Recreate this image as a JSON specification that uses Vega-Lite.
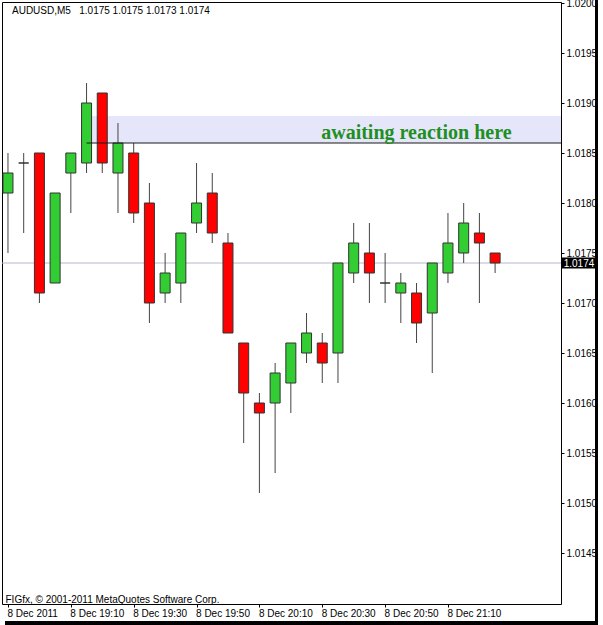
{
  "$schema": "https://vega.github.io/schema/vega-lite/v6.json",
  "width": 559,
  "height": 602,
  "autosize": {"type": "none"},
  "padding": {"left": 2, "top": 2, "right": 42, "bottom": 21},
  "background": "white",
  "datasets": {
    "candles": [
      {"t": "2011-12-08T18:50:00Z", "open": 1.0181, "high": 1.0185, "low": 1.0175, "close": 1.0183},
      {"t": "2011-12-08T18:55:00Z", "open": 1.0184, "high": 1.0185, "low": 1.0177, "close": 1.0184},
      {"t": "2011-12-08T19:00:00Z", "open": 1.0185, "high": 1.0185, "low": 1.0170, "close": 1.0171},
      {"t": "2011-12-08T19:05:00Z", "open": 1.0172, "high": 1.0181, "low": 1.0172, "close": 1.0181},
      {"t": "2011-12-08T19:10:00Z", "open": 1.0183, "high": 1.0185, "low": 1.0179, "close": 1.0185},
      {"t": "2011-12-08T19:15:00Z", "open": 1.0184, "high": 1.0192, "low": 1.0183, "close": 1.0190},
      {"t": "2011-12-08T19:20:00Z", "open": 1.0191, "high": 1.0191, "low": 1.0183, "close": 1.0184},
      {"t": "2011-12-08T19:25:00Z", "open": 1.0183, "high": 1.0188, "low": 1.0179, "close": 1.0186},
      {"t": "2011-12-08T19:30:00Z", "open": 1.0185, "high": 1.0186, "low": 1.0178, "close": 1.0179},
      {"t": "2011-12-08T19:35:00Z", "open": 1.0180, "high": 1.0182, "low": 1.0168, "close": 1.0170},
      {"t": "2011-12-08T19:40:00Z", "open": 1.0171, "high": 1.0175, "low": 1.0170, "close": 1.0173},
      {"t": "2011-12-08T19:45:00Z", "open": 1.0172, "high": 1.0177, "low": 1.0170, "close": 1.0177},
      {"t": "2011-12-08T19:50:00Z", "open": 1.0178, "high": 1.0184, "low": 1.0177, "close": 1.0180},
      {"t": "2011-12-08T19:55:00Z", "open": 1.0181, "high": 1.0183, "low": 1.0176, "close": 1.0177},
      {"t": "2011-12-08T20:00:00Z", "open": 1.0176, "high": 1.0177, "low": 1.0167, "close": 1.0167},
      {"t": "2011-12-08T20:05:00Z", "open": 1.0166, "high": 1.0166, "low": 1.0156, "close": 1.0161},
      {"t": "2011-12-08T20:10:00Z", "open": 1.0160, "high": 1.0161, "low": 1.0151, "close": 1.0159},
      {"t": "2011-12-08T20:15:00Z", "open": 1.0160, "high": 1.0164, "low": 1.0153, "close": 1.0163},
      {"t": "2011-12-08T20:20:00Z", "open": 1.0162, "high": 1.0166, "low": 1.0159, "close": 1.0166},
      {"t": "2011-12-08T20:25:00Z", "open": 1.0165, "high": 1.0169, "low": 1.0164, "close": 1.0167},
      {"t": "2011-12-08T20:30:00Z", "open": 1.0166, "high": 1.0167, "low": 1.0162, "close": 1.0164},
      {"t": "2011-12-08T20:35:00Z", "open": 1.0165, "high": 1.0174, "low": 1.0162, "close": 1.0174},
      {"t": "2011-12-08T20:40:00Z", "open": 1.0173, "high": 1.0178, "low": 1.0172, "close": 1.0176},
      {"t": "2011-12-08T20:45:00Z", "open": 1.0175, "high": 1.0178, "low": 1.0170, "close": 1.0173},
      {"t": "2011-12-08T20:50:00Z", "open": 1.0172, "high": 1.0175, "low": 1.0170, "close": 1.0172},
      {"t": "2011-12-08T20:55:00Z", "open": 1.0171, "high": 1.0173, "low": 1.0168, "close": 1.0172},
      {"t": "2011-12-08T21:00:00Z", "open": 1.0171, "high": 1.0172, "low": 1.0166, "close": 1.0168},
      {"t": "2011-12-08T21:05:00Z", "open": 1.0169, "high": 1.0174, "low": 1.0163, "close": 1.0174},
      {"t": "2011-12-08T21:10:00Z", "open": 1.0173, "high": 1.0179, "low": 1.0172, "close": 1.0176},
      {"t": "2011-12-08T21:15:00Z", "open": 1.0175, "high": 1.0180, "low": 1.0174, "close": 1.0178},
      {"t": "2011-12-08T21:20:00Z", "open": 1.0177, "high": 1.0179, "low": 1.0170, "close": 1.0176},
      {"t": "2011-12-08T21:25:00Z", "open": 1.0175, "high": 1.0175, "low": 1.0173, "close": 1.0174}
    ]
  },
  "layer": [
    {
      "data": {"values": [{}]},
      "mark": {"type": "rect", "color": "#e6e6fa", "clip": true},
      "encoding": {
        "x": {
          "datum": {"year": 2011, "month": 12, "date": 8, "hours": 19, "minutes": 15, "utc": true},
          "type": "temporal",
          "scale": {
            "type": "utc",
            "domain": [
              {"year": 2011, "month": 12, "date": 8, "hours": 18, "minutes": 49, "seconds": 41, "milliseconds": 250, "utc": true},
              {"year": 2011, "month": 12, "date": 8, "hours": 21, "minutes": 44, "seconds": 22, "milliseconds": 500, "utc": true}
            ]
          },
          "axis": {
            "orient": "bottom",
            "values": [
              {"year": 2011, "month": 12, "date": 8, "hours": 18, "minutes": 50, "utc": true},
              {"year": 2011, "month": 12, "date": 8, "hours": 19, "minutes": 10, "utc": true},
              {"year": 2011, "month": 12, "date": 8, "hours": 19, "minutes": 30, "utc": true},
              {"year": 2011, "month": 12, "date": 8, "hours": 19, "minutes": 50, "utc": true},
              {"year": 2011, "month": 12, "date": 8, "hours": 20, "minutes": 10, "utc": true},
              {"year": 2011, "month": 12, "date": 8, "hours": 20, "minutes": 30, "utc": true},
              {"year": 2011, "month": 12, "date": 8, "hours": 20, "minutes": 50, "utc": true},
              {"year": 2011, "month": 12, "date": 8, "hours": 21, "minutes": 10, "utc": true}
            ],
            "labelExpr": "utcFormat(datum.value, '%H:%M') === '18:50' ? '8 Dec 2011' : utcFormat(datum.value, '%-d %b %H:%M')",
            "labelAlign": "left",
            "labelBaseline": "top",
            "labelPadding": 1,
            "labelOffset": -1,
            "labelFlush": false,
            "labelOverlap": false,
            "labelFont": "Liberation Sans",
            "labelFontSize": 10,
            "labelColor": "black",
            "tickSize": 3,
            "tickColor": "black",
            "domain": false,
            "grid": false,
            "title": "FIGfx, © 2001-2011 MetaQuotes Software Corp.",
            "titleAnchor": "start",
            "titleAlign": "left",
            "titleX": 3,
            "titleY": -2,
            "titleBaseline": "alphabetic",
            "titleFont": "Liberation Sans",
            "titleFontSize": 10,
            "titleFontWeight": "normal",
            "titleColor": "black"
          }
        },
        "x2": {"datum": {"year": 2011, "month": 12, "date": 8, "hours": 22, "minutes": 0, "utc": true}},
        "y": {
          "datum": 1.0186,
          "type": "quantitative",
          "scale": {"domain": [1.01399, 1.02001], "nice": false, "zero": false},
          "axis": {
            "orient": "right",
            "values": [1.0145, 1.015, 1.0155, 1.016, 1.0165, 1.017, 1.0175, 1.018, 1.0185, 1.019, 1.0195, 1.02],
            "format": ".4f",
            "labelFont": "Liberation Sans",
            "labelFontSize": 10,
            "labelColor": "black",
            "labelPadding": 2,
            "labelFlush": false,
            "labelOverlap": false,
            "tickSize": 3,
            "tickColor": "black",
            "domain": false,
            "grid": false,
            "title": null
          }
        },
        "y2": {"datum": 1.01887}
      }
    },
    {
      "data": {"values": [{}]},
      "mark": {"type": "rule", "color": "#b4bacb", "strokeWidth": 1},
      "encoding": {"y": {"datum": 1.0174, "type": "quantitative"}}
    },
    {
      "data": {"name": "candles"},
      "mark": {"type": "rule", "color": "#444444", "strokeWidth": 1, "clip": true},
      "encoding": {
        "x": {"field": "t", "type": "temporal"},
        "y": {"field": "low", "type": "quantitative"},
        "y2": {"field": "high"}
      }
    },
    {
      "data": {"name": "candles"},
      "mark": {"type": "bar", "width": 10, "stroke": "#333333", "strokeWidth": 1, "clip": true},
      "encoding": {
        "x": {"field": "t", "type": "temporal"},
        "y": {"field": "open", "type": "quantitative"},
        "y2": {"field": "close"},
        "fill": {"condition": {"test": "datum.close > datum.open", "value": "#32cd32"}, "value": "#ff0000"}
      }
    },
    {
      "data": {"values": [{}]},
      "mark": {"type": "rule", "color": "#1a1a1a", "strokeWidth": 1, "clip": true},
      "encoding": {
        "x": {"datum": {"year": 2011, "month": 12, "date": 8, "hours": 19, "minutes": 15, "utc": true}, "type": "temporal"},
        "x2": {"datum": {"year": 2011, "month": 12, "date": 8, "hours": 22, "minutes": 0, "utc": true}},
        "y": {"datum": 1.0186, "type": "quantitative"}
      }
    },
    {
      "data": {"values": [{"note": "awaiting reaction here"}]},
      "mark": {"type": "text", "align": "left", "baseline": "alphabetic", "font": "Liberation Serif", "fontSize": 20, "fontWeight": "bold", "color": "#1f8f1f"},
      "encoding": {
        "x": {"datum": {"year": 2011, "month": 12, "date": 8, "hours": 20, "minutes": 29, "seconds": 40, "utc": true}, "type": "temporal"},
        "y": {"datum": 1.01864, "type": "quantitative"},
        "text": {"field": "note"}
      }
    },
    {
      "data": {"values": [{"header": "AUDUSD,M5\u00a0\u00a0 1.0175 1.0175 1.0173 1.0174"}]},
      "mark": {"type": "text", "align": "left", "baseline": "alphabetic", "dx": 5, "font": "Liberation Sans", "fontSize": 10, "color": "black"},
      "encoding": {
        "x": {"datum": {"year": 2011, "month": 12, "date": 8, "hours": 18, "minutes": 49, "seconds": 41, "milliseconds": 250, "utc": true}, "type": "temporal"},
        "y": {"datum": 1.01989, "type": "quantitative"},
        "text": {"field": "header"}
      }
    },
    {
      "data": {"values": [{}]},
      "mark": {"type": "point", "shape": "M-1,-0.3056H1V0.3056H-1Z", "size": 1296, "filled": true, "color": "black", "opacity": 1, "xOffset": 18},
      "encoding": {
        "x": {"value": "width"},
        "y": {"datum": 1.0174, "type": "quantitative"}
      }
    },
    {
      "data": {"values": [{"price": "1.0174"}]},
      "mark": {"type": "text", "align": "center", "baseline": "middle", "dx": 18, "dy": 1, "font": "Liberation Sans", "fontSize": 10, "color": "white"},
      "encoding": {
        "x": {"value": "width"},
        "y": {"datum": 1.0174, "type": "quantitative"},
        "text": {"field": "price"}
      }
    },
    {
      "data": {"values": [{}]},
      "mark": {"type": "rule", "color": "black", "strokeWidth": 4, "yOffset": 19, "xOffset": -2, "x2Offset": 42},
      "encoding": {
        "x": {"datum": {"year": 2011, "month": 12, "date": 8, "hours": 18, "minutes": 49, "seconds": 41, "milliseconds": 250, "utc": true}, "type": "temporal"},
        "x2": {"datum": {"year": 2011, "month": 12, "date": 8, "hours": 21, "minutes": 44, "seconds": 22, "milliseconds": 500, "utc": true}},
        "y": {"datum": 1.01399, "type": "quantitative"}
      }
    },
    {
      "data": {"values": [{}]},
      "mark": {"type": "rule", "color": "black", "strokeWidth": 3, "xOffset": 40.5, "yOffset": -2, "y2Offset": 21},
      "encoding": {
        "x": {"datum": {"year": 2011, "month": 12, "date": 8, "hours": 21, "minutes": 44, "seconds": 22, "milliseconds": 500, "utc": true}, "type": "temporal"},
        "y": {"datum": 1.02001, "type": "quantitative"},
        "y2": {"datum": 1.01399}
      }
    }
  ],
  "config": {
    "view": {"stroke": "black", "strokeWidth": 1},
    "font": "Liberation Sans"
  }
}
